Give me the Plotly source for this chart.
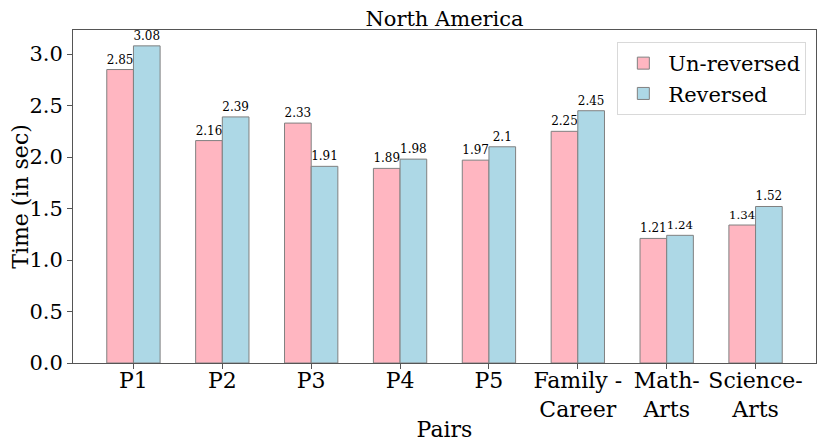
import plotly.graph_objects as go

# Données
pares = ["P1", "P2", "P3", "P4", "P5", "Family -<br>Career", "Math-<br>Arts", "Science-<br>Arts"]
nao_invertido = [2.85, 2.16, 2.33, 1.89, 1.97, 2.25, 1.21, 1.34]
invertido = [3.08, 2.39, 1.91, 1.98, 2.1, 2.45, 1.24, 1.52]

x = list(range(len(pares)))
largura = 0.3
fonte = "DejaVu Serif"
cor_eixo = "#555555"

fig = go.Figure()
fig.add_trace(go.Bar(
    x=x, y=nao_invertido, name="Un-reversed",
    width=largura, offset=-largura,
    marker=dict(color="#FFB6C1", line=dict(color="grey", width=1)),
    text=[str(v) for v in nao_invertido], textposition="outside",
    textfont=dict(size=12, color="black"), cliponaxis=False,
))
fig.add_trace(go.Bar(
    x=x, y=invertido, name="Reversed",
    width=largura, offset=0,
    marker=dict(color="#ADD8E6", line=dict(color="grey", width=1)),
    text=[str(v) for v in invertido], textposition="outside",
    textfont=dict(size=12, color="black"), cliponaxis=False,
))

eixo = dict(showline=True, linecolor=cor_eixo, linewidth=1, mirror=True,
            ticks="outside", ticklen=5, tickcolor=cor_eixo, showgrid=False,
            zeroline=False, automargin=False)

# a página tem margem de 8px, por isso a figura é 8px mais pequena
fig.update_layout(
    width=822, height=439,
    font=dict(family=fonte, color="black"),
    plot_bgcolor="white", paper_bgcolor="white",
    margin=dict(l=65, r=14, t=22, b=84),
    title=dict(text="North America", xref="paper", x=0.5, xanchor="center",
               y=0.975, yanchor="middle", font=dict(size=21)),
    xaxis=dict(eixo, tickvals=x, ticktext=pares, range=[-0.68, 7.68],
               tickfont=dict(size=22), ticklabelstandoff=-7,
               title=dict(text="Pairs", font=dict(size=22), standoff=0)),
    yaxis=dict(eixo, range=[0, 3.234], tickvals=[0, 0.5, 1, 1.5, 2, 2.5, 3],
               ticktext=["0.0", "0.5", "1.0", "1.5", "2.0", "2.5", "3.0"],
               tickfont=dict(size=21),
               title=dict(text="Time (in sec)", font=dict(size=22), standoff=8)),
    legend=dict(x=0.987, y=0.964, xanchor="right", yanchor="top",
                bordercolor="#d9d9d9", borderwidth=1, bgcolor="rgba(255,255,255,0.85)",
                font=dict(size=21), itemwidth=40),
    showlegend=True,
)

fig.write_html("out.html")
